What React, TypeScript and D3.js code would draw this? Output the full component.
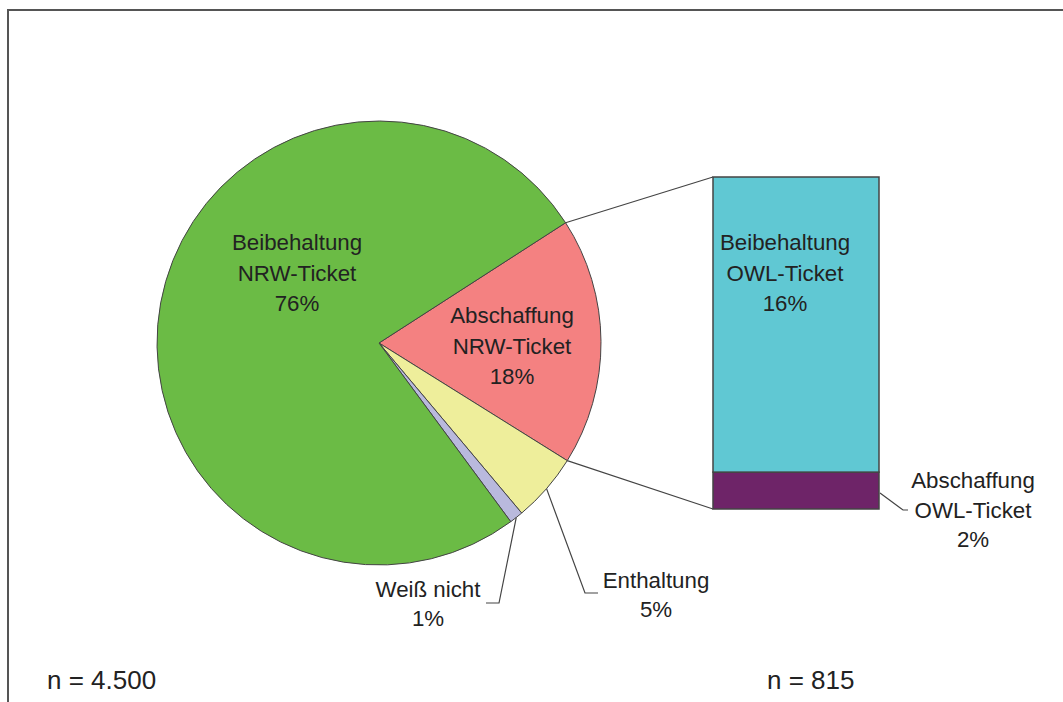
import React from "react";
import * as d3 from "d3";

const pieCategories = ["Abschaffung NRW-Ticket", "Enthaltung", "Weiß nicht", "Beibehaltung NRW-Ticket"];
const pieValues = [18, 5, 1, 76];
const pieColors = ["#F48181", "#EEEE9B", "#B9B9DD", "#6BBB45"];
const pieLabelLines = [["Abschaffung", "NRW-Ticket", "18%"], ["Enthaltung", "5%"], ["Weiß nicht", "1%"], ["Beibehaltung", "NRW-Ticket", "76%"]];

const barCategories = ["Abschaffung OWL-Ticket", "Beibehaltung OWL-Ticket"];
const barValues = [2, 16];
const barColors = ["#6E2468", "#60C8D3"];
const barLabelLines = [["Abschaffung", "OWL-Ticket", "2%"], ["Beibehaltung", "OWL-Ticket", "16%"]];

const sampleLabels = ["n = 4.500", "n = 815"];

const W = 1063, H = 702;
const cx = 379, cy = 343, R = 222;
const deg = Math.PI / 180;

export default function App() {
  const pie = d3.pie<number>().sort(null).value((d) => d).startAngle(57.2 * deg).endAngle(57.2 * deg + 2 * Math.PI);
  const arcs = pie(pieValues);
  const arcGen = d3.arc<d3.PieArcDatum<number>>().innerRadius(0).outerRadius(R);
  const pt = (a: number, r = R): [number, number] => [cx + r * Math.sin(a), cy - r * Math.cos(a)];

  const barX0 = 713, barX1 = 879;
  const total = d3.sum(barValues);
  const y = d3.scaleLinear().domain([0, total]).range([509, 177]);
  let acc = 0;
  const stacks = barValues.map((v) => { const s = { y0: acc, y1: acc + v }; acc += v; return s; });

  const redStart = pt(arcs[0].startAngle);
  const redEnd = pt(arcs[0].endAngle);

  const font = "'Liberation Sans', Arial, sans-serif";
  const fs = 22.3;
  const txt = (lines: string[], x: number, y0: number, key: string, step = 30.5) => (
    <text key={key} x={x} y={y0} textAnchor="middle" fontFamily={font} fontSize={fs} fill="#222">
      {lines.map((l, i) => <tspan key={i} x={x} y={y0 + i * step}>{l}</tspan>)}
    </text>
  );

  const enthA = (arcs[1].startAngle + arcs[1].endAngle) / 2;
  const weissA = (arcs[2].startAngle + arcs[2].endAngle) / 2;
  const enthP = pt(enthA);
  const weissP = pt(weissA);

  return (
    <svg width={W} height={H} style={{ position: "absolute", left: 0, top: 0, background: "#fff" }}>
      <rect x={8} y={10} width={1200} height={900} fill="none" stroke="#555" strokeWidth={2} />
      {arcs.map((a, i) => (
        <path key={pieCategories[i]} d={arcGen(a) || ""} transform={`translate(${cx},${cy})`} fill={pieColors[i]} stroke="#444" strokeWidth={1} />
      ))}
      {stacks.map((s, i) => (
        <rect key={barCategories[i]} x={barX0} y={y(s.y1)} width={barX1 - barX0} height={y(s.y0) - y(s.y1)} fill={barColors[i]} stroke="#444" strokeWidth={1.5} />
      ))}
      <line x1={redStart[0]} y1={redStart[1]} x2={barX0} y2={y(total)} stroke="#444" strokeWidth={1.2} />
      <line x1={redEnd[0]} y1={redEnd[1]} x2={barX0} y2={y(0)} stroke="#444" strokeWidth={1.2} />
      <polyline points={`${weissP[0]},${weissP[1]} 499,603 486,603`} fill="none" stroke="#444" strokeWidth={1.2} />
      <polyline points={`${enthP[0]},${enthP[1]} 585,593 598,593`} fill="none" stroke="#444" strokeWidth={1.2} />
      <polyline points={`${barX1 + 1},493 903,510 908,510`} fill="none" stroke="#444" strokeWidth={1.2} />
      {txt(pieLabelLines[3], 297, 250, "l3")}
      {txt(pieLabelLines[0], 512, 323, "l0")}
      {txt(pieLabelLines[1], 656, 588, "l1", 29)}
      {txt(pieLabelLines[2], 428, 597, "l2", 29)}
      {txt(barLabelLines[1], 785, 250, "b1")}
      {txt(barLabelLines[0], 973, 488, "b0", 29.5)}
      <text x={47} y={689} fontFamily={font} fontSize={26} fill="#222">{sampleLabels[0]}</text>
      <text x={767} y={689} fontFamily={font} fontSize={26} fill="#222">{sampleLabels[1]}</text>
    </svg>
  );
}
